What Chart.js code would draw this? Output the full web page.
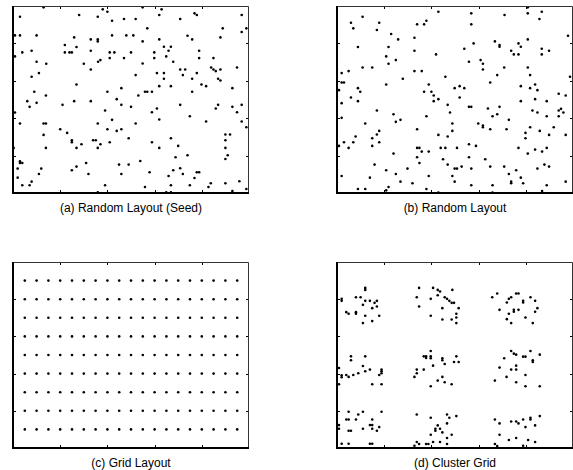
<!DOCTYPE html>
<html><head><meta charset="utf-8">
<script src="https://cdn.jsdelivr.net/npm/chart.js@4.4.0/dist/chart.umd.min.js"></script>
<style>
html,body{margin:0;padding:0;background:#fff;width:573px;height:470px;overflow:hidden;position:relative}
canvas{position:absolute;display:block}
.cap{position:absolute;font:12px "Liberation Sans",Arial,Helvetica,sans-serif;color:#000;text-align:center;width:300px;white-space:nowrap;line-height:14px}
</style></head><body>
<canvas id="ca"></canvas><canvas id="cb"></canvas><canvas id="cc"></canvas><canvas id="cd"></canvas>
<div class="cap" id="ta">(a) Random Layout (Seed)</div>
<div class="cap" id="tb">(b) Random Layout</div>
<div class="cap" id="tc">(c) Grid Layout</div>
<div class="cap" id="td">(d) Cluster Grid</div>
<script>
// Field extent and tick values (same for all four panels)
const xMax = 710, yMax = 560;
const xTicks = [0, 142, 284, 426, 568, 710];
const yTicks = [0, 112, 224, 336, 448, 560];
const captions = ["(a) Random Layout (Seed)", "(b) Random Layout", "(c) Grid Layout", "(d) Cluster Grid"];

// (a) Random Layout (Seed) node positions [x, y]
const seedNodes = [
[92,556],[270,550],[284,543],[21,528],[199,533],[255,528],[298,516],[334,521],[369,521],
[6,472],[21,472],[71,472],[184,466],[234,460],[255,460],[255,454],[298,472],[341,472],[362,472],
[156,443],[191,437],[56,426],[28,421],[156,421],[170,421],[177,421],[234,426],[291,421],[305,421],[355,421],
[6,409],[263,398],[256,393],[291,404],[334,404],[71,393],[100,387],[213,387],[234,370],[78,359],[56,348],[369,353],
[191,325],[64,303],[284,303],[326,314],[99,292],[377,292],[312,281],[43,275],[71,270],[50,258],[184,275],[234,275],
[149,264],[326,264],[355,258],[277,247],[6,241],
[21,208],[92,208],[99,208],[255,208],[298,219],[369,208],[142,191],[284,191],[312,186],[326,191],[163,180],[92,174],[348,164],
[177,158],[177,152],[241,158],[249,158],[263,146],[291,152],[206,146],[191,135],[255,135],[99,135],[2,135],
[21,95],[21,90],[28,90],[220,90],[191,79],[319,85],[348,85],[14,73],[85,73],[177,68],[227,57],[78,57],[326,57],
[14,46],[56,34],[28,23],[50,23],[277,23],[255,2],
[390,556],[447,550],[440,533],[503,521],[546,538],[553,533],[688,533],[404,493],[631,493],[702,493],[688,482],
[525,471],[539,460],[624,466],[440,460],[390,454],[454,438],[475,438],[468,426],[425,421],[560,426],[425,404],
[461,409],[560,404],[603,404],[482,393],[390,388],[596,376],[603,370],[610,365],[624,370],[674,376],[503,370],
[518,370],[433,359],[454,359],[553,359],[511,353],[454,342],[539,342],[617,342],[624,337],[567,325],[581,320],
[440,320],[475,320],[660,314],[397,303],[404,303],[418,303],[539,303],[503,264],[617,264],[610,253],[660,258],
[688,264],[433,253],[418,242],[674,242],[532,230],[440,220],[581,214],[688,214],[702,197],[639,175],[653,175],
[475,164],[639,158],[418,152],[497,141],[639,135],[440,135],[525,113],[646,113],[639,102],[489,107],[383,96],
[482,68],[503,74],[411,62],[553,62],[560,62],[511,57],[468,51],[546,45],[595,29],[588,18],[639,29],[681,35],
[475,23],[532,23],[397,18],[461,2],[475,2],[660,6],[702,12]
];

// (b) Random Layout node positions [x, y]
const randomNodes = [
[305,543],[77,528],[42,510],[127,510],[49,493],[120,488],[241,505],[262,505],[269,516],[163,476],[184,460],[233,465],
[63,437],[155,437],[233,426],[298,415],[148,409],[155,387],[177,398],[14,359],[35,365],[77,376],[106,376],[233,365],
[255,365],[198,342],[14,331],[21,331],[6,308],[63,314],[70,303],[148,325],[276,325],[262,303],[284,303],[291,292],
[42,286],[305,281],[291,275],[63,275],[14,269],[120,247],[170,236],[177,213],[191,219],[14,225],[269,230],[85,208],
[127,186],[120,175],[241,191],[56,169],[106,164],[305,174],[21,152],[49,152],[127,152],[106,141],[6,141],[35,135],
[241,135],[248,135],[255,124],[276,124],[170,118],[241,107],[248,90],[113,85],[212,73],[148,68],[177,57],[276,51],
[14,51],[99,46],[191,34],[227,29],[155,18],[63,12],[85,12],[148,8],[269,12],[305,1],
[574,556],[616,543],[404,538],[574,538],[504,533],[609,521],[404,505],[695,471],[574,460],[475,454],[489,443],[489,438],
[411,448],[546,448],[553,438],[383,432],[524,426],[532,415],[546,415],[616,432],[616,415],[638,426],[397,393],[432,398],
[439,387],[439,370],[503,376],[574,376],[581,353],[482,353],[326,348],[701,348],[461,331],[596,325],[553,320],[354,314],
[369,320],[383,314],[581,314],[603,308],[667,297],[688,292],[369,286],[596,281],[553,275],[631,275],[333,264],[397,258],
[404,258],[489,258],[454,253],[588,247],[603,241],[667,247],[674,252],[681,241],[340,241],[482,236],[468,230],[631,230],
[667,230],[517,219],[347,208],[425,208],[439,202],[439,197],[461,191],[510,191],[581,197],[652,197],[347,186],[610,186],
[567,180],[638,174],[688,174],[333,169],[567,164],[397,146],[418,141],[312,135],[326,135],[361,135],[546,135],[631,135],
[596,130],[617,124],[574,118],[397,107],[319,101],[446,101],[333,85],[354,73],[361,73],[375,79],[404,73],[461,79],
[503,79],[539,68],[603,73],[624,85],[638,79],[347,51],[517,57],[553,46],[354,34],[524,34],[524,29],[560,29],
[688,34],[404,23],[468,23],[631,23],[468,1],[617,6]
];

// (c) Grid Layout: column and row coordinates
const gridCols = [35.5,71,106.5,142,177.5,213,248.5,284,319.5,355,390.5,426,461.5,497,532.5,568,603.5,639,674.5];
const gridRows = [56,112,168,224,280,336,392,448,504];

// (d) Cluster Grid node positions [x, y]
const clusterNodes = [
[85,482],[85,476],[14,449],[14,443],[57,454],[71,454],[85,443],[99,443],[113,437],[120,443],[78,431],[106,421],
[120,426],[28,409],[35,404],[57,409],[57,404],[85,398],[127,398],[106,382],[78,376],
[42,276],[42,264],[85,276],[78,247],[6,241],[99,236],[85,231],[64,225],[49,220],[28,220],[14,219],[14,213],[35,214],
[134,236],[134,231],[134,225],[127,220],[6,192],[106,192],[134,192],
[35,109],[78,109],[134,109],[64,101],[28,86],[35,86],[57,86],[106,86],[6,69],[6,58],[99,69],[106,69],[127,63],
[78,58],[106,58],[35,52],[42,52],[120,52],[14,13],[35,13],[99,13],[106,13],
[247,482],[289,482],[303,476],[310,471],[347,476],[240,454],[282,449],[303,460],[324,454],[331,449],[338,443],
[345,437],[352,437],[247,426],[317,421],[366,421],[359,404],[359,393],[282,398],[317,387],[345,387],[359,376],
[282,292],[261,276],[268,276],[268,271],[282,276],[282,270],[317,270],[317,264],[359,276],[324,253],[352,259],
[366,259],[289,248],[240,236],[240,225],[261,236],[233,214],[317,214],[303,203],[324,198],[345,192],[282,186],
[240,101],[331,101],[338,91],[359,96],[282,91],[331,74],[303,68],[296,58],[296,52],[310,58],[317,47],[282,40],
[345,40],[331,30],[289,18],[310,18],[331,12],[240,18],[247,12],[268,12],[275,12],[233,7],
[467,454],[482,465],[511,438],[517,449],[524,454],[539,465],[546,465],[560,443],[560,438],[582,454],[596,443],
[546,416],[532,416],[532,410],[489,416],[517,404],[603,421],[596,410],[567,393],[511,388],[524,376],[589,376],
[524,292],[532,284],[539,281],[582,292],[560,275],[567,275],[610,281],[503,270],[589,264],[589,259],[539,248],
[489,242],[524,236],[539,236],[567,220],[510,214],[475,203],[539,198],[567,186],[610,186],
[610,96],[582,91],[582,86],[560,86],[475,86],[524,80],[539,80],[546,74],[489,74],[596,68],[567,63],[489,40],
[539,30],[517,24],[575,24],[596,18],[475,12],[482,6],[560,7]
];

const gridNodes = [];
gridRows.forEach(r => gridCols.forEach(c => gridNodes.push([c, r])));

const panels = [
  {id:'ca', cap:'ta', data:seedNodes,    L:13,  T:6,   W:236, H:187},
  {id:'cb', cap:'tb', data:randomNodes,  L:337, T:6,   W:236, H:187},
  {id:'cc', cap:'tc', data:gridNodes,    L:13,  T:262, W:236, H:186},
  {id:'cd', cap:'td', data:clusterNodes, L:337, T:262, W:236, H:186}
];

const PAD = 4;
const framePlugin = {
  id: 'frame',
  afterDraw(chart) {
    const ctx = chart.ctx, a = chart.chartArea, xs = chart.scales.x, ys = chart.scales.y;
    ctx.save();
    ctx.strokeStyle = '#000';
    ctx.lineWidth = 1;
    ctx.beginPath();
    xTicks.slice(1, -1).forEach(v => {
      const px = Math.round(xs.getPixelForValue(v)) + 0.5;
      ctx.moveTo(px, a.bottom); ctx.lineTo(px, a.bottom - 3);
      ctx.moveTo(px, a.top); ctx.lineTo(px, a.top + 3);
    });
    yTicks.slice(1, -1).forEach(v => {
      const py = Math.round(ys.getPixelForValue(v)) + 0.5;
      ctx.moveTo(a.left, py); ctx.lineTo(a.left + 3, py);
      ctx.moveTo(a.right, py); ctx.lineTo(a.right - 3, py);
    });
    ctx.stroke();
    ctx.strokeStyle = '#333';
    ctx.lineWidth = 1;
    ctx.beginPath();
    ctx.moveTo(a.left, a.top + 0.5); ctx.lineTo(a.right - 0.5, a.top + 0.5); ctx.lineTo(a.right - 0.5, a.bottom);
    ctx.stroke();
    ctx.strokeStyle = '#000';
    ctx.lineWidth = 2;
    ctx.beginPath();
    ctx.moveTo(a.left, a.top); ctx.lineTo(a.left, a.bottom); ctx.lineTo(a.right, a.bottom);
    ctx.stroke();
    ctx.restore();
  }
};

panels.forEach((p, i) => {
  const cv = document.getElementById(p.id);
  cv.width = p.W + 2 * PAD; cv.height = p.H + 2 * PAD;
  cv.style.left = (p.L - PAD) + 'px'; cv.style.top = (p.T - PAD) + 'px';
  cv.style.width = cv.width + 'px'; cv.style.height = cv.height + 'px';
  const cap = document.getElementById(p.cap);
  cap.textContent = captions[i];
  cap.style.left = (p.L + p.W / 2 - 150) + 'px';
  cap.style.top = (p.T + p.H + 8) + 'px';
  new Chart(cv, {
    type: 'scatter',
    data: { datasets: [{
      data: p.data.map(d => ({x: d[0], y: d[1]})),
      pointRadius: 1.3, pointHoverRadius: 1.3,
      pointBackgroundColor: '#000', pointBorderWidth: 0, borderWidth: 0,
      clip: 4
    }]},
    options: {
      responsive: false, animation: false, devicePixelRatio: 1,
      layout: { padding: PAD },
      plugins: { legend: {display: false}, tooltip: {enabled: false}, title: {display: false} },
      events: [],
      scales: {
        x: { type: 'linear', min: 0, max: xMax, display: false },
        y: { type: 'linear', min: 0, max: yMax, display: false }
      }
    },
    plugins: [framePlugin]
  });
});
</script>
</body></html>
